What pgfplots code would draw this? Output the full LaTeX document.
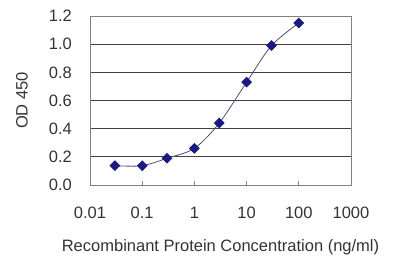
\documentclass[border=0pt]{standalone}
\usepackage{pgfplots}
\pgfplotsset{compat=1.18}
\usepackage{fontspec}
\setmainfont{Liberation Sans}
\definecolor{navy}{HTML}{1A1A80}
\definecolor{txt}{HTML}{333333}
\begin{document}
\begin{tikzpicture}[x=1pt,y=1pt]
\begin{axis}[
  at={(0,0)}, anchor=south west,
  scale only axis, width=261pt, height=169pt,
  xmode=log, xmin=0.01, xmax=1000, ymin=0, ymax=1.2,
  log basis x=10,
  xtick={0.01,0.1,1,10,100,1000},
  xticklabels={0.01,0.1,1,10,100,1000},
  ytick={0,0.2,0.4,0.6,0.8,1.0,1.2},
  yticklabels={0.0,0.2,0.4,0.6,0.8,1.0,1.2},
  minor xtick={},
  ymajorgrids, grid style={black!75, line width=0.8pt},
  axis line style={gray, line width=0.8pt},
  tick style={gray, line width=0.8pt},
  xtick pos=bottom, ytick pos=left,
  xtick align=inside, major tick length=4pt,
  ytick style={draw=none},
  tick label style={font=\fontsize{16.5}{18}\selectfont, text=txt, inner sep=0pt},
  xticklabel style={anchor=center, yshift=-28pt},
  yticklabel style={anchor=east, xshift=-18pt},
  /pgf/number format/assume math mode=true,
  xlabel={Recombinant Protein Concentration (ng/ml)},
  ylabel={OD 450},
  label style={font=\fontsize{16.5}{18}\selectfont, text=txt, inner sep=0pt},
  xlabel style={at={(axis description cs:0.5,-0.367)}, anchor=center},
  ylabel style={at={(axis description cs:-0.2605,0.5)}, anchor=center},
  clip=false,
]
\addplot[color=navy!50!gray, line width=0.8pt, smooth, tension=0.5, mark=square*, mark size=3.4pt, mark options={fill=navy, draw=navy, solid, rotate=45}]
 coordinates {(0.03,0.137) (0.1,0.137) (0.3,0.19) (1,0.26) (3,0.44) (10,0.73) (30,0.99) (100,1.15)};
\end{axis}
\useasboundingbox (-90,-82) rectangle (310,185);
\end{tikzpicture}
\end{document}
